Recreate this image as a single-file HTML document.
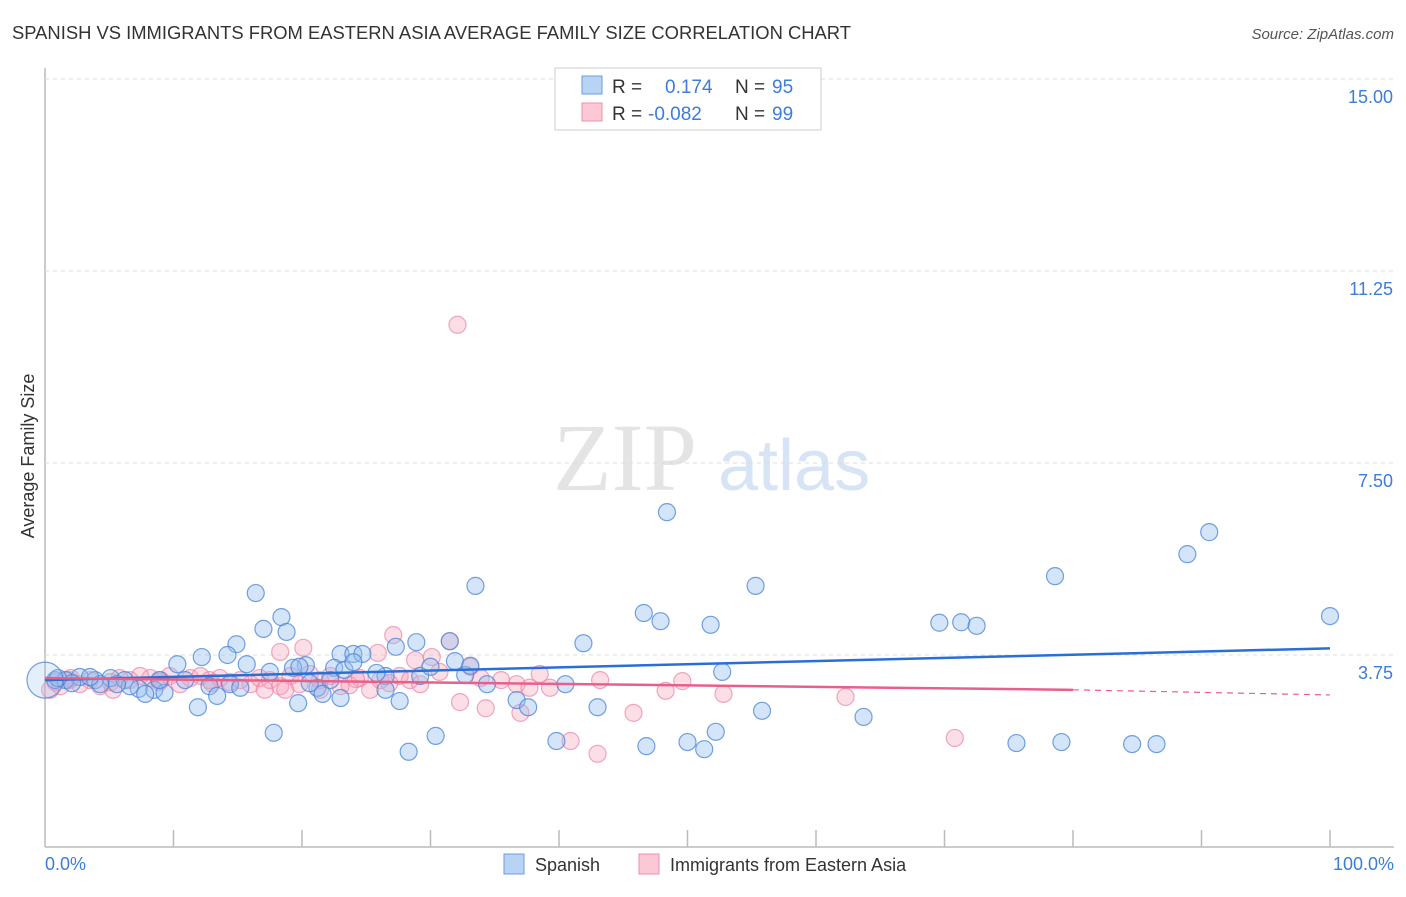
<!DOCTYPE html>
<html><head><meta charset="utf-8"><style>
body{margin:0;background:#fff;font-family:"Liberation Sans",sans-serif}
</style></head><body>
<svg id="c" width="1406" height="892" xmlns="http://www.w3.org/2000/svg">
<text x="12" y="39" font-size="18.4" fill="#333">SPANISH VS IMMIGRANTS FROM EASTERN ASIA AVERAGE FAMILY SIZE CORRELATION CHART</text>
<text x="1394" y="39" font-size="15" fill="#555" font-style="italic" text-anchor="end">Source: ZipAtlas.com</text>
<text x="553" y="490" font-size="96" fill="#e4e4e4" font-family="Liberation Serif">ZIP</text>
<text x="718" y="490" font-size="72" fill="#d6e4f5">atlas</text>
<g id="grid"></g><g id="pts"></g><g id="trend"></g>
<text x="34" y="456" font-size="18" fill="#333" text-anchor="middle" transform="rotate(-90 34 456)">Average Family Size</text>
<text x="45" y="870" font-size="18" fill="#3b7dd8">0.0%</text>
<text x="1394" y="870" font-size="18" fill="#3b7dd8" text-anchor="end">100.0%</text>
<g>
<rect x="555" y="68" width="266" height="62" fill="#fff" stroke="#ccc"/>
<rect x="582" y="76" width="20" height="18" fill="#b9d3f5" stroke="#6a9de0"/>
<rect x="582" y="103" width="20" height="18" fill="#fcc8d6" stroke="#ec8fab"/>
<text x="612" y="93" font-size="19" fill="#333">R =</text><text x="665" y="93" font-size="19" fill="#3b7dd8">0.174</text>
<text x="735" y="93" font-size="19" fill="#333">N =</text><text x="772" y="93" font-size="19" fill="#3b7dd8">95</text>
<text x="612" y="120" font-size="19" fill="#333">R =</text><text x="648" y="120" font-size="19" fill="#3b7dd8">-0.082</text>
<text x="735" y="120" font-size="19" fill="#333">N =</text><text x="772" y="120" font-size="19" fill="#3b7dd8">99</text>
</g>
<g>
<rect x="504" y="854" width="20" height="20" fill="#b9d3f5" stroke="#6a9de0"/>
<text x="535" y="871" font-size="18" fill="#333">Spanish</text>
<rect x="639" y="854" width="20" height="20" fill="#fcc8d6" stroke="#ec8fab"/>
<text x="670" y="871" font-size="18" fill="#333">Immigrants from Eastern Asia</text>
</g>
</svg>
<script>
const yTicks=[3.75,7.5,11.25,15];
const yTickLabels=["3.75","7.50","11.25","15.00"];
const blueX=[48.4,90.6,88.9,78.6,33.5,55.3,16.4,46.6,47.9,100,18.4,69.6,71.3,72.5,51.8,17.0,18.8,14.9,41.9,28.9,31.5,27.3,14.2,23.0,24.0,24.7,12.2,31.9,10.3,15.7,20.3,19.3,22.5,23.3,26.5,25.8,52.7,32.7,34.4,40.5,26.5,21.2,12.8,7.3,8.5,9.3,7.8,13.4,21.6,23.0,19.7,27.6,36.7,37.6,43.0,11.9,55.8,63.7,17.8,30.4,39.8,28.3,46.8,50.0,51.3,52.2,75.6,79.1,84.6,86.5,0.8,1.6,2.7,3.9,5.1,6.2,4.3,2.1,6.6,8.9,10.9,14.4,15.2,17.5,20.6,22.2,24.0,29.2,1.0,3.5,5.6,30.0,33.1,19.8,0];
const blueY=[6.54,6.15,5.72,5.29,5.10,5.10,4.96,4.57,4.41,4.51,4.49,4.38,4.39,4.32,4.34,4.26,4.20,3.96,3.98,4.00,4.02,3.91,3.75,3.77,3.77,3.77,3.71,3.63,3.57,3.57,3.55,3.50,3.50,3.46,3.34,3.40,3.42,3.36,3.18,3.18,3.07,3.11,3.14,3.09,3.07,3.01,2.99,2.95,2.99,2.91,2.81,2.85,2.87,2.73,2.73,2.73,2.66,2.54,2.23,2.17,2.07,1.86,1.97,2.05,1.91,2.25,2.03,2.05,2.01,2.01,3.26,3.26,3.32,3.26,3.30,3.26,3.18,3.20,3.14,3.26,3.26,3.18,3.11,3.42,3.20,3.26,3.61,3.34,3.30,3.32,3.18,3.52,3.54,3.52,3.26];
const pinkX=[32.1,27.1,31.5,20.1,18.3,25.9,30.1,28.8,33.1,38.5,43.2,49.6,36.7,37.7,39.3,48.3,52.8,62.3,32.3,34.3,37.0,45.8,40.9,43.0,70.8,25.3,23.7,22.2,20.6,19.1,17.5,16.0,14.4,12.8,11.3,9.7,8.2,6.6,5.1,3.5,1.9,0.8,1.2,2.7,4.3,5.8,7.4,8.9,10.5,12.1,13.6,15.2,16.7,18.3,19.8,21.4,23.0,24.5,26.1,27.6,28.4,29.2,30.7,33.9,5.3,0.4,17.1,18.7,21.4,35.5,26.8,24.2,13.0,9.0,2.0];
const pinkY=[10.2,4.14,4.02,3.89,3.81,3.79,3.71,3.65,3.52,3.38,3.26,3.24,3.18,3.11,3.11,3.05,2.99,2.93,2.83,2.71,2.62,2.62,2.07,1.82,2.13,3.07,3.16,3.34,3.38,3.34,3.26,3.18,3.22,3.26,3.30,3.34,3.30,3.26,3.22,3.26,3.26,3.22,3.14,3.18,3.14,3.30,3.34,3.22,3.18,3.34,3.30,3.26,3.30,3.14,3.18,3.26,3.14,3.30,3.26,3.34,3.26,3.18,3.42,3.30,3.07,3.07,3.07,3.07,3.07,3.26,3.20,3.28,3.20,3.26,3.30];
const blueTrend=[0,3.26,100,3.88];
const pinkTrend=[0,3.30,80,3.07,100,2.97];
const X=v=>45+v*12.85, Y=v=>847-v*51.2;
const NS="http://www.w3.org/2000/svg";
function mk(t,a,p){const e=document.createElementNS(NS,t);for(const k in a)e.setAttribute(k,a[k]);p.appendChild(e);return e;}
const g=document.getElementById('grid');
let ax=mk('line',{x1:45,y1:68,x2:45,y2:847,stroke:'#bbb','stroke-width':1.5},g);


let bx=mk('line',{x1:45,y1:847,x2:1394,y2:847,stroke:'#bbb','stroke-width':1.5},g);


for(let i=1;i<=10;i++){const t=mk('line',{x1:X(i*10.0),y1:830,x2:X(i*10.0),y2:847,stroke:'#bbb','stroke-width':1.5},g);

}
yTicks.forEach((v,i)=>{const l=mk('line',{x1:45,y1:Y(v),x2:1394,y2:Y(v),stroke:'#ddd','stroke-dasharray':'4 4'},g);


const t=mk('text',{x:1393,y:Y(v)+24,'font-size':18,fill:'#3b7dd8','text-anchor':'end'},g);t.textContent=yTickLabels[i];

});
const p=document.getElementById('pts');
pinkX.forEach((x,i)=>{const c=mk('circle',{cx:X(x),cy:Y(pinkY[i]),r:8.5,fill:'rgba(246,160,185,0.35)',stroke:'rgba(236,130,165,0.7)','stroke-width':1.2},p);

});
blueX.forEach((x,i)=>{const big=i==blueX.length-1;const c=mk('circle',{cx:X(x),cy:Y(blueY[i]),r:big?18:8.5,fill:big?'rgba(150,190,240,0.25)':'rgba(150,190,240,0.4)',stroke:'rgba(70,130,215,0.75)','stroke-width':1.2},p);

});
const tr=document.getElementById('trend');
let b=mk('line',{x1:X(blueTrend[0]),y1:Y(blueTrend[1]),x2:X(blueTrend[2]),y2:Y(blueTrend[3]),stroke:'#2a6fd6','stroke-width':2.5},tr);


let pk=mk('line',{x1:X(pinkTrend[0]),y1:Y(pinkTrend[1]),x2:X(pinkTrend[2]),y2:Y(pinkTrend[3]),stroke:'#e8608a','stroke-width':2.5},tr);


let pd=mk('line',{x1:X(pinkTrend[2]),y1:Y(pinkTrend[3]),x2:X(pinkTrend[4]),y2:Y(pinkTrend[5]),stroke:'#e8608a','stroke-width':1.2,'stroke-dasharray':'6 5'},tr);


</script>
</body></html>
